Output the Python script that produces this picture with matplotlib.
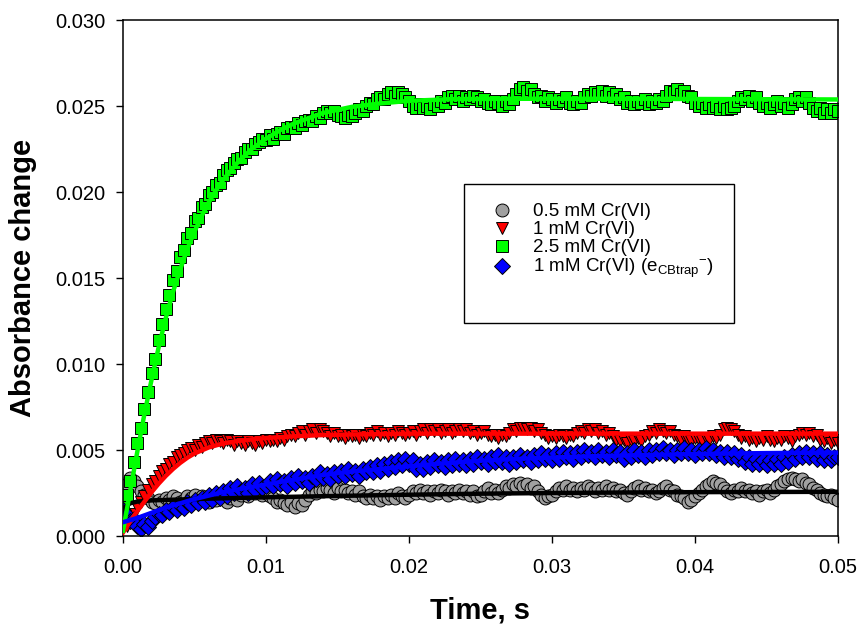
import numpy as np
import matplotlib.pyplot as plt
from matplotlib.lines import Line2D
from matplotlib.patches import Rectangle
from matplotlib.ticker import FormatStrFormatter

plt.rcParams['font.family'] = ['Liberation Sans', 'DejaVu Sans']
plt.rcParams['mathtext.fontset'] = 'custom'
plt.rcParams['mathtext.rm'] = 'Liberation Sans'

# Messzeitpunkte (s), 0.25 ms Abstand
time_s = np.linspace(0, 0.05, 201)

# Messwerte in mAbs (x 1e-3)
gray_mabs = [
    2.2, 3.0, 3.4, 3.2, 2.9, 2.6, 2.4, 2.2, 2.0, 1.9, 2.1, 2.0, 2.2, 2.1, 2.3, 2.2, 2.0, 2.1, 2.3, 2.2,
    2.4, 2.1, 2.3, 2.2, 2.0, 2.2, 2.1, 2.3, 2.2, 2.0, 2.2, 2.3, 2.1, 2.4, 2.5, 2.3, 2.6, 2.5, 2.7, 2.4,
    2.5, 2.3, 2.2, 2.0, 2.1, 1.9, 1.8, 2.0, 1.7, 1.9, 1.8, 2.1, 2.4, 2.6, 2.5, 2.7, 2.6, 2.8, 2.7, 2.5,
    2.8, 2.6, 2.7, 2.5, 2.6, 2.4, 2.6, 2.3, 2.2, 2.4, 2.2, 2.3, 2.1, 2.3, 2.2, 2.4, 2.2, 2.5, 2.3, 2.2,
    2.4, 2.6, 2.5, 2.7, 2.5, 2.6, 2.4, 2.6, 2.5, 2.7, 2.6, 2.4, 2.6, 2.5, 2.7, 2.5, 2.6, 2.4, 2.6, 2.3,
    2.4, 2.6, 2.8, 2.5, 2.7, 2.5, 2.7, 2.9, 2.8, 3.0, 2.9, 3.1, 2.9, 3.0, 2.8, 2.9, 2.6, 2.4, 2.2, 2.3,
    2.4, 2.6, 2.8, 2.7, 2.9, 2.7, 2.8, 2.6, 2.8, 2.7, 2.9, 2.8, 2.6, 2.8, 2.7, 2.9, 2.7, 2.8, 2.6, 2.7,
    2.5, 2.4, 2.6, 2.8, 2.9, 2.7, 2.8, 2.6, 2.7, 2.5, 2.6, 2.8, 2.9, 2.7, 2.6, 2.4, 2.3, 2.2, 2.0, 2.1,
    2.3, 2.5, 2.7, 2.9, 3.0, 3.2, 3.1, 3.0, 2.8, 2.6, 2.5, 2.7, 2.6, 2.8, 2.6, 2.7, 2.5, 2.6, 2.4, 2.6,
    2.7, 2.5, 2.7, 2.9, 3.0, 3.2, 3.3, 3.4, 3.3, 3.2, 3.3, 3.1, 3.0, 2.8, 2.7, 2.5, 2.4, 2.3, 2.4, 2.2,
    2.1]

red_mabs = [
    0.5, 0.6, 1.0, 1.3, 1.7, 2.0, 2.3, 2.7, 3.0, 3.2, 3.5, 3.8, 3.9, 4.2, 4.3, 4.6, 4.7, 4.8, 5.0, 5.1,
    5.0, 5.3, 5.2, 5.4, 5.5, 5.4, 5.6, 5.5, 5.4, 5.6, 5.5, 5.3, 5.5, 5.4, 5.3, 5.5, 5.4, 5.3, 5.5, 5.4,
    5.6, 5.5, 5.6, 5.5, 5.7, 5.6, 5.8, 5.9, 5.8, 6.0, 6.1, 5.9, 6.1, 6.2, 6.0, 6.2, 6.1, 6.0, 5.8, 6.0,
    5.8, 5.9, 5.7, 5.9, 5.8, 5.9, 5.7, 5.9, 5.8, 6.0, 5.9, 6.1, 5.9, 6.0, 5.8, 6.0, 5.9, 6.1, 6.0, 5.9,
    6.0, 6.1, 5.9, 6.1, 6.2, 6.0, 6.2, 6.1, 6.2, 6.0, 6.1, 6.2, 6.0, 6.1, 6.2, 6.1, 6.2, 6.0, 6.1, 5.9,
    6.0, 6.1, 5.9, 5.8, 5.9, 5.7, 5.9, 5.8, 6.0, 6.2, 6.1, 6.3, 6.3, 6.2, 6.3, 6.1, 6.2, 6.0, 5.9, 5.7,
    5.8, 5.7, 5.9, 5.8, 5.7, 5.9, 5.8, 6.0, 6.1, 6.0, 6.2, 6.1, 6.2, 6.0, 6.1, 5.9, 6.0, 5.8, 5.6, 5.5,
    5.6, 5.4, 5.6, 5.5, 5.7, 5.5, 5.8, 5.9, 6.1, 6.0, 6.2, 6.1, 6.0, 6.1, 5.9, 5.8, 5.6, 5.8, 5.6, 5.5,
    5.7, 5.6, 5.5, 5.7, 5.6, 5.8, 5.7, 5.9, 6.2, 6.3, 6.2, 6.1, 5.9, 5.7, 5.8, 5.6, 5.7, 5.5, 5.7, 5.6,
    5.8, 5.6, 5.5, 5.7, 5.6, 5.8, 5.7, 5.5, 5.8, 5.9, 6.0, 5.9, 6.0, 5.8, 5.9, 5.6, 5.5, 5.7, 5.4, 5.6,
    5.4]

green_mabs = [
    2.0, 2.4, 3.2, 4.3, 5.4, 6.3, 7.4, 8.4, 9.5, 10.3, 11.4, 12.3, 13.2, 14.0, 14.9, 15.4, 16.2, 16.6, 17.3, 17.6,
    18.3, 18.5, 19.1, 19.3, 19.8, 20.0, 20.4, 20.5, 21.0, 21.3, 21.4, 21.7, 21.9, 22.0, 22.3, 22.5, 22.5, 22.8, 22.9, 23.1,
    23.0, 23.3, 23.1, 23.4, 23.5, 23.4, 23.7, 23.8, 23.7, 24.0, 23.9, 24.1, 24.2, 24.1, 24.4, 24.3, 24.6, 24.7, 24.6, 24.7,
    24.5, 24.4, 24.3, 24.5, 24.4, 24.6, 24.8, 24.7, 25.0, 25.2, 25.1, 25.4, 25.5, 25.4, 25.7, 25.8, 25.6, 25.8, 25.7, 25.5,
    25.3, 25.0, 24.9, 25.1, 24.9, 25.0, 24.8, 25.1, 25.0, 25.3, 25.2, 25.5, 25.6, 25.4, 25.6, 25.3, 25.5, 25.4, 25.6, 25.5,
    25.3, 25.4, 25.2, 25.1, 25.3, 25.2, 25.0, 25.3, 25.1, 25.4, 25.7, 26.0, 26.1, 25.9, 26.0, 25.7, 25.5, 25.6, 25.3, 25.5,
    25.4, 25.2, 25.4, 25.3, 25.5, 25.2, 25.1, 25.3, 25.2, 25.5, 25.7, 25.6, 25.8, 25.7, 25.9, 25.6, 25.8, 25.5, 25.7, 25.4,
    25.5, 25.2, 25.3, 25.1, 25.3, 25.2, 25.4, 25.1, 25.3, 25.2, 25.4, 25.3, 25.6, 25.9, 25.8, 26.0, 25.7, 25.9, 25.6, 25.5,
    25.2, 25.0, 25.2, 24.9, 25.1, 24.9, 25.0, 24.8, 25.0, 24.8, 24.9, 25.0, 25.3, 25.5, 25.4, 25.6, 25.3, 25.5, 25.2, 25.0,
    25.2, 24.9, 25.1, 25.3, 25.0, 25.2, 24.9, 25.1, 25.4, 25.5, 25.3, 25.5, 25.2, 24.9, 24.7, 24.9, 24.6, 24.8, 24.6, 24.8,
    24.7]

blue_mabs = [
    1.5, 1.2, 0.9, 1.0, 0.6, 0.4, 0.7, 0.5, 0.9, 1.1, 1.3, 1.2, 1.5, 1.4, 1.7, 1.5, 1.8, 1.6, 2.0, 1.8,
    2.1, 1.9, 2.2, 2.0, 2.4, 2.1, 2.5, 2.2, 2.6, 2.3, 2.8, 2.5, 2.9, 2.6, 2.8, 2.5, 3.0, 2.7, 3.1, 2.8,
    2.9, 3.2, 2.9, 3.3, 3.0, 3.2, 2.9, 3.4, 3.1, 3.5, 3.2, 3.4, 3.1, 3.5, 3.3, 3.7, 3.4, 3.6, 3.3, 3.7,
    3.5, 3.8, 3.5, 3.9, 3.6, 3.8, 3.5, 3.9, 3.7, 4.0, 3.7, 4.1, 3.8, 4.2, 3.9, 4.3, 4.0, 4.4, 4.1, 4.5,
    4.2, 4.4, 3.9, 4.2, 3.9, 4.3, 4.0, 4.4, 4.1, 4.3, 4.0, 4.4, 4.1, 4.5, 4.2, 4.4, 4.1, 4.5, 4.2, 4.6,
    4.3, 4.5, 4.2, 4.6, 4.3, 4.7, 4.3, 4.6, 4.2, 4.6, 4.3, 4.7, 4.4, 4.6, 4.3, 4.7, 4.4, 4.8, 4.5, 4.7,
    4.4, 4.8, 4.5, 4.9, 4.6, 4.8, 4.5, 4.9, 4.6, 5.0, 4.7, 4.9, 4.6, 5.0, 4.7, 4.9, 4.6, 5.0, 4.7, 4.9,
    4.5, 4.8, 4.6, 5.0, 4.7, 4.9, 4.6, 5.0, 4.7, 5.0, 4.8, 5.1, 4.8, 5.0, 4.7, 5.0, 4.8, 5.1, 4.8, 5.0,
    4.7, 5.0, 4.8, 5.1, 4.8, 5.0, 4.7, 4.9, 4.6, 4.9, 4.6, 4.8, 4.5, 4.7, 4.3, 4.6, 4.2, 4.5, 4.2, 4.4,
    4.1, 4.4, 4.2, 4.5, 4.2, 4.6, 4.3, 4.7, 4.5, 4.8, 4.6, 4.9, 4.6, 4.8, 4.5, 4.8, 4.4, 4.7, 4.4, 4.6,
    4.6]

# Fitkurven (Zeit in ms, Wert in mAbs)
gray_fit_ms = [0, 0.5, 1, 2, 5, 10, 15, 20, 25, 30, 35, 40, 50]
gray_fit_mabs = [1.6, 1.9, 2.0, 2.07, 2.15, 2.25, 2.33, 2.4, 2.46, 2.5, 2.53, 2.55, 2.57]

red_fit_ms = [0, 0.5, 1, 1.5, 2, 2.5, 3, 3.5, 4, 4.5, 5, 6, 7, 8, 9, 10, 12, 14, 17, 20, 50]
red_fit_mabs = [0.2, 0.85, 1.45, 2.0, 2.55, 3.05, 3.5, 3.9, 4.25, 4.55, 4.8, 5.15, 5.38, 5.52, 5.62,
                5.7, 5.8, 5.87, 5.92, 5.95, 5.95]

green_fit_ms = [0, 0.5, 1, 1.5, 2, 2.5, 3, 3.5, 4, 4.5, 5, 5.5, 6, 6.5, 7, 8, 9, 10, 11, 12, 13, 14,
                16, 18, 20, 23, 27, 35, 50]
green_fit_mabs = [0.3, 2.6, 4.9, 7.1, 9.1, 11.0, 12.7, 14.2, 15.5, 16.7, 17.7, 18.6, 19.4, 20.1, 20.7,
                  21.7, 22.5, 23.1, 23.6, 24.0, 24.3, 24.6, 24.95, 25.15, 25.3, 25.4, 25.42, 25.42, 25.38]

blue_fit_ms = [0, 1, 2, 3, 4, 5, 6, 7, 8, 9, 10, 12, 14, 16, 18, 20, 22, 25, 28, 32, 36, 40, 45, 50]
blue_fit_mabs = [0.8, 1.05, 1.35, 1.65, 1.9, 2.15, 2.35, 2.55, 2.7, 2.85, 3.0, 3.28, 3.55, 3.75, 3.9,
                 4.05, 4.2, 4.38, 4.5, 4.62, 4.7, 4.77, 4.82, 4.85]

labels = ['0.5 mM Cr(VI)', '1 mM Cr(VI)', '2.5 mM Cr(VI)',
          r'1 mM Cr(VI) ($\mathregular{e_{CBtrap}{}^{-}}$)']

fig = plt.figure(figsize=(8.58, 6.25), dpi=100)
ax = fig.add_axes([123 / 858, 1 - 536 / 625, 715 / 858, 516 / 625])

ax.plot(time_s, np.array(gray_mabs) / 1000, 'o', ms=9.3, mfc='#a0a0a0', mec='black', mew=0.7, ls='none', zorder=2)
ax.plot(time_s, np.array(red_mabs) / 1000, 'v', ms=9.0, mfc='#ff0000', mec='black', mew=0.7, ls='none', zorder=2)
ax.plot(time_s, np.array(green_mabs) / 1000, 's', ms=8.5, mfc='#00ff00', mec='black', mew=0.7, ls='none', zorder=2)
ax.plot(time_s, np.array(blue_mabs) / 1000, 'D', ms=8.2, mfc='#0000ff', mec='black', mew=0.7, ls='none', zorder=2)

ax.plot(np.array(gray_fit_ms) / 1000, np.array(gray_fit_mabs) / 1000, color='black', lw=3.2, zorder=3)
ax.plot(np.array(red_fit_ms) / 1000, np.array(red_fit_mabs) / 1000, color='#ff0000', lw=3.2, zorder=3)
ax.plot(np.array(green_fit_ms) / 1000, np.array(green_fit_mabs) / 1000, color='#00ff00', lw=3.2, zorder=3)
ax.plot(np.array(blue_fit_ms) / 1000, np.array(blue_fit_mabs) / 1000, color='#0000ff', lw=3.2, zorder=3)

ax.set_xlim(0, 0.05)
ax.set_ylim(0, 0.03)
ax.set_xticks(np.arange(0, 0.0501, 0.01))
ax.set_yticks(np.arange(0, 0.0301, 0.005))
ax.xaxis.set_major_formatter(FormatStrFormatter('%.2f'))
ax.yaxis.set_major_formatter(FormatStrFormatter('%.3f'))
ax.tick_params(direction='out', length=5, width=1, labelsize=14.5, pad=7.5)
ax.tick_params(axis='x', pad=11)
for sp in ax.spines.values():
    sp.set_linewidth(1.1)

ax.set_xlabel('Time, s', fontsize=21, fontweight='bold', labelpad=14)
ax.set_ylabel('Absorbance change', fontsize=21, fontweight='bold', labelpad=13)

# Legende
handles = [
    Line2D([], [], marker='o', ms=9.3, mfc='#a0a0a0', mec='black', mew=0.7, ls='none'),
    Line2D([], [], marker='v', ms=9.0, mfc='#ff0000', mec='black', mew=0.7, ls='none'),
    Line2D([], [], marker='s', ms=8.5, mfc='#00ff00', mec='black', mew=0.7, ls='none'),
    Line2D([], [], marker='D', ms=8.2, mfc='#0000ff', mec='black', mew=0.7, ls='none'),
]
fig.legend(handles, labels, loc='upper left', bbox_to_anchor=(493 / 858, 1 - 203 / 625),
           frameon=False, fontsize=13.5, borderpad=0, borderaxespad=0, handlelength=1.0,
           handletextpad=1.15, labelspacing=0.05)
fig.patches.append(Rectangle((464 / 858, 1 - 323 / 625), 270 / 858, 139 / 625, transform=fig.transFigure,
                             fill=True, facecolor='white', edgecolor='black', lw=1.0, zorder=0))

fig.savefig('out.png', dpi=100)
